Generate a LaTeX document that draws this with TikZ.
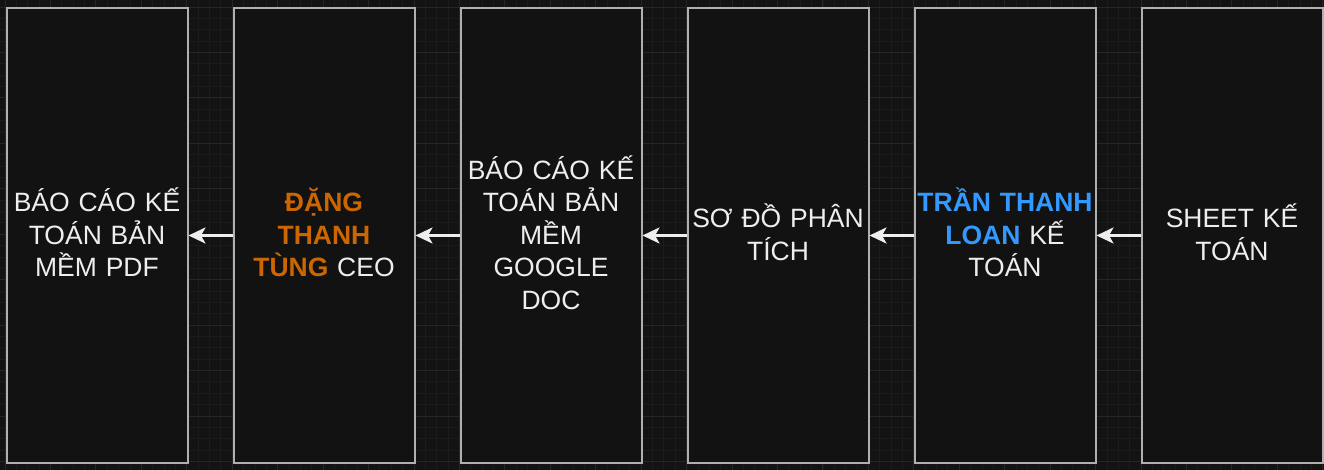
\documentclass[tikz,border=0pt]{standalone}
\usepackage{fontspec}
\setmainfont{Liberation Sans}
\usetikzlibrary{arrows.meta}
\definecolor{bg}{HTML}{131313}
\definecolor{boxfill}{HTML}{121212}
\definecolor{gridminor}{HTML}{1B1B1B}
\definecolor{gridmajor}{HTML}{262626}
\definecolor{boxline}{HTML}{B0B0B0}
\definecolor{txt}{HTML}{EEEEEE}
\definecolor{ceo}{HTML}{CC6600}
\definecolor{acct}{HTML}{3399FF}
\tikzset{
  panel/.style={draw=boxline, line width=2pt, fill=boxfill, minimum width=181pt, minimum height=454pt, anchor=north west, inner sep=0pt},
  label/.style={text=txt, align=center, font=\fontsize{26.5}{32.5}\selectfont, text width=178pt, yshift=3pt},
  flow/.style={draw=txt, line width=2.8pt, -{Stealth[length=17pt, width=16pt, inset=4.5pt]}}
}
\begin{document}
\begin{tikzpicture}[x=1pt, y=-1pt]
\useasboundingbox (0,0) rectangle (1324,470);
\fill[bg] (0,0) rectangle (1324,470);
% grid
\foreach \i in {-1,...,120} {
  \draw[gridminor, line width=0.8pt] ({5+11.36*\i},0) -- ({5+11.36*\i},470);
}
\foreach \i in {-1,...,42} {
  \draw[gridminor, line width=0.8pt] (0,{7+11.36*\i}) -- (1324,{7+11.36*\i});
}
\foreach \i in {0,...,30} {
  \draw[gridmajor, line width=0.9pt] ({5+45.44*\i},0) -- ({5+45.44*\i},470);
}
\foreach \i in {-1,...,11} {
  \draw[gridmajor, line width=0.9pt] (0,{7+45.44*\i}) -- (1324,{7+45.44*\i});
}
% boxes
\node[panel] (b1) at (5.5,7.5) {};
\node[panel] (b2) at (232.5,7.5) {};
\node[panel] (b3) at (459.5,7.5) {};
\node[panel] (b4) at (686.5,7.5) {};
\node[panel] (b5) at (913.5,7.5) {};
\node[panel] (b6) at (1140.5,7.5) {};
% labels
\node[label] (t1) at (b1.center) {BÁO CÁO KẾ\\TOÁN BẢN\\MỀM PDF};
\node[label] (t2) at (b2.center) {\textcolor{ceo}{\bfseries ĐẶNG}\\\textcolor{ceo}{\bfseries THANH}\\\textcolor{ceo}{\bfseries TÙNG} CEO};
\node[label] (t3) at (b3.center) {BÁO CÁO KẾ\\TOÁN BẢN\\MỀM\\GOOGLE\\DOC};
\node[label] (t4) at (b4.center) {SƠ ĐỒ PHÂN\\TÍCH};
\node[label] (t5) at (b5.center) {\textcolor{acct}{\bfseries TRẦN THANH}\\\textcolor{acct}{\bfseries LOAN} KẾ\\TOÁN};
\node[label] (t6) at (b6.center) {SHEET KẾ\\TOÁN};
% arrows
\draw[flow] (b2.west) -- (b1.east);
\draw[flow] (b3.west) -- (b2.east);
\draw[flow] (b4.west) -- (b3.east);
\draw[flow] (b5.west) -- (b4.east);
\draw[flow] (b6.west) -- (b5.east);
\end{tikzpicture}
\end{document}
